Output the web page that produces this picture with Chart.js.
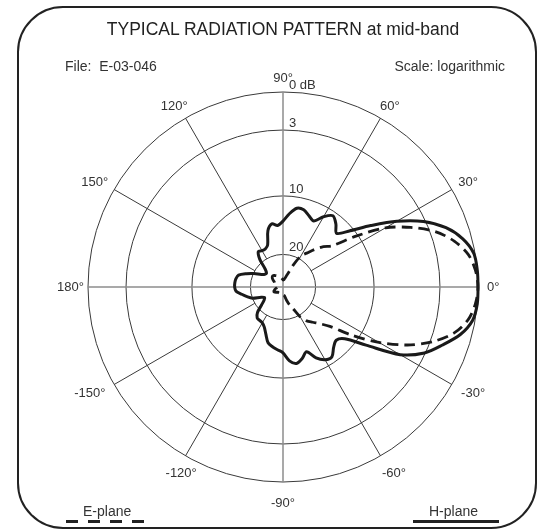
<!DOCTYPE html>
<html>
<head>
<meta charset="utf-8">
<script src="https://cdn.jsdelivr.net/npm/chart.js@4.4.1/dist/chart.umd.min.js"></script>
<style>
  html, body { margin: 0; padding: 0; background: #fff; }
  #wrap { position: relative; width: 554px; height: 531px; overflow: hidden;
          font-family: "Liberation Sans", Arial, sans-serif; color: #333; }
  #chart { position: absolute; left: 0; top: 0; }
  #frame { position: absolute; left: 17px; top: 6px; width: 516px; height: 519px;
           border: 2px solid #222; border-radius: 46px; }
  .t { position: absolute; white-space: nowrap; line-height: 1; }
  #title { left: 0; width: 566px; text-align: center; top: 21px; font-size: 17.5px; color: #222; }
  #file { left: 65px; top: 59px; font-size: 14px; }
  #scale { right: 49px; top: 59px; font-size: 14px; }
  #elab { left: 83px; top: 504px; font-size: 14px; }
  #hlab { left: 429px; top: 504px; font-size: 14px; }
  #eline { position: absolute; left: 66px; top: 520px; width: 79px; height: 3px;
           background: repeating-linear-gradient(to right, #222 0 12px, transparent 12px 22px); }
  #hline { position: absolute; left: 413px; top: 520px; width: 86px; height: 3px; background: #222; }
</style>
</head>
<body>
<div id="wrap">
  <canvas id="chart" width="554" height="531"></canvas>
  <div id="frame"></div>
  <div class="t" id="title">TYPICAL RADIATION PATTERN at mid-band</div>
  <div class="t" id="file">File:&nbsp; E-03-046</div>
  <div class="t" id="scale">Scale: logarithmic</div>
  <div class="t" id="elab">E-plane</div>
  <div id="eline"></div>
  <div class="t" id="hlab">H-plane</div>
  <div id="hline"></div>
</div>
<script>
// ---- angles (degrees, counter-clockwise from 0° = right) ----
const angles = [0,5,10,15,20,25,30,35,40,45,50,55,60,65,70,75,80,85,
  90,95,100,105,110,115,120,125,130,135,140,145,150,155,160,165,170,175,
  180,185,190,195,200,205,210,215,220,225,230,235,240,245,250,255,260,265,
  270,275,280,285,290,295,300,305,310,315,320,325,330,335,340,345,350,355];

// ---- relative level in dB below peak, H-plane (solid) ----
const hPlane = [0,0,0.1,0.7,1.7,3.2,5.7,8.3,10.6,12.6,11.5,10.7,11.7,13.1,12.6,11.9,11.9,13.0,
  14.3,15.0,14.6,15.6,17.9,18.4,18.4,18.2,19.4,22.3,23.4,23.2,22.3,20.2,18.9,17.7,17.4,17.3,
  17.3,17.5,18.4,19.2,20.0,22.6,23.5,22.9,21.4,19.4,18.7,18.6,18.5,18.0,17.0,15.7,15.2,14.8,
  14.3,12.9,12.3,12.9,13.8,12.2,11.2,11.0,12.1,12.7,11.8,8.9,5.3,3.1,2.0,0.9,0.2,0];

// ---- relative level in dB below peak, E-plane (dashed) ----
const ePlane = [0,0.15,0.55,1.4,2.6,4.7,7.1,10.5,14.6,15.8,17.2,18.5,19.4,22.6,25.7,26.9,27.5,27.8,
  27.8,27.5,27.2,26.9,26.6,26.3,26.0,25.7,25.4,25.4,25.7,26.3,26.9,27.2,27.5,27.8,28.2,28.2,
  28.2,28.2,27.8,27.5,27.2,26.9,26.9,27.2,27.5,27.8,27.8,27.8,27.8,27.5,27.5,27.5,27.5,27.5,
  27.5,27.5,27.2,25.8,24.2,22.6,19.6,18.5,17.7,16.7,15.1,11.2,7.9,5.1,2.8,1.4,0.55,0.15];

// ---- radial axis (logarithmic chart paper): dB rings and their relative radius ----
const scaleDb   = [0, 3, 10, 20, 30];
const scaleFrac = [1, 0.805, 0.467, 0.167, 0];
const tickDb     = [20, 10, 3, 0];
const tickLabels = ['20', '10', '3', '0 dB'];
const angleTicks = [0, 30, 60, 90, 120, 150, 180, 210, 240, 270, 300, 330];

function dbToR(db) {
  if (db <= scaleDb[0]) return 1;
  for (let k = 0; k < scaleDb.length - 1; k++) {
    if (db <= scaleDb[k + 1]) {
      const t = (db - scaleDb[k]) / (scaleDb[k + 1] - scaleDb[k]);
      return scaleFrac[k] + t * (scaleFrac[k + 1] - scaleFrac[k]);
    }
  }
  return 0;
}

// radar goes clockwise from the top: index i -> math angle 90 - i*step
const step = 360 / angles.length;
const order = angles.map((_, i) => {
  const a = ((90 - i * step) % 360 + 360) % 360;
  return angles.indexOf(a);
});
const radarLabels = order.map(j => angles[j]);
const idxOfAngle = a => radarLabels.indexOf(a);

const FONT = '"Liberation Sans", Arial, sans-serif';
// small horizontal nudges of a few angle labels, as on the original sheet
const labelNudge = { 180: 5, 240: 11 };

const overlay = {
  id: 'overlay',
  beforeDatasetsDraw(chart) {
    const s = chart.scales.r, ctx = chart.ctx;
    const r20 = s.getDistanceFromCenterForValue(dbToR(20));
    ctx.save();
    ctx.strokeStyle = '#3a3a3a';
    ctx.lineWidth = 1;
    angleTicks.forEach(a => {
      if (a % 90 === 0) return;
      const i = idxOfAngle(a);
      const p1 = s.getPointPosition(i, r20);
      const p2 = s.getPointPosition(i, s.drawingArea);
      ctx.beginPath();
      ctx.moveTo(p1.x, p1.y);
      ctx.lineTo(p2.x, p2.y);
      ctx.stroke();
    });
    ctx.restore();
  },
  afterDraw(chart) {
    const s = chart.scales.r, ctx = chart.ctx;
    ctx.save();
    ctx.fillStyle = '#333';
    ctx.font = '13px ' + FONT;
    // radial tick labels, right of the vertical axis, just above each ring
    ctx.textAlign = 'left';
    ctx.textBaseline = 'alphabetic';
    tickDb.forEach((db, k) => {
      const d = s.getDistanceFromCenterForValue(dbToR(db));
      ctx.fillText(tickLabels[k], s.xCenter + 6, s.yCenter - d - 3);
    });
    // angle labels
    ctx.textAlign = 'center';
    ctx.textBaseline = 'middle';
    angleTicks.forEach(a => {
      const i = idxOfAngle(a);
      const th = a * Math.PI / 180;
      const sn = Math.sin(th), cs = Math.cos(th);
      const txt = (a > 180 ? a - 360 : a) + '°';
      const w = ctx.measureText(txt).width, h = 10;
      const pad = 9 + (sn < 0 ? -sn * 7 : 0);
      const p = s.getPointPosition(i, s.drawingArea + pad);
      ctx.fillText(txt, p.x + cs * w / 2 + (labelNudge[a] || 0), p.y - sn * h / 2);
    });
    ctx.restore();
  }
};

new Chart(document.getElementById('chart'), {
  type: 'radar',
  data: {
    labels: radarLabels,
    datasets: [
      { label: 'H-plane', data: order.map(j => dbToR(hPlane[j])),
        borderColor: '#1a1a1a', borderWidth: 3, fill: false },
      { label: 'E-plane', data: order.map(j => dbToR(ePlane[j])),
        borderColor: '#1a1a1a', borderWidth: 2.8, borderDash: [11, 6], fill: false }
    ]
  },
  options: {
    responsive: false,
    animation: false,
    layout: { padding: { left: 88, right: 76, top: 92, bottom: 49 } },
    plugins: { legend: { display: false }, tooltip: { enabled: false }, title: { display: false } },
    elements: { point: { radius: 0, hoverRadius: 0 }, line: { tension: 0.3 } },
    scales: {
      r: {
        min: 0, max: 1, startAngle: 0,
        ticks: { display: false },
        afterBuildTicks: sc => {
          sc.ticks = [0].concat(tickDb.map(dbToR)).sort((a, b) => a - b).map(v => ({ value: v }));
        },
        grid: { circular: true, color: '#3a3a3a', lineWidth: 1 },
        angleLines: {
          display: true,
          color: c => (radarLabels[c.index] % 90 === 0 ? '#8c8c8c' : 'rgba(0,0,0,0)'),
          lineWidth: c => (radarLabels[c.index] % 90 === 0 ? 1.5 : 0)
        },
        pointLabels: { display: false }
      }
    }
  },
  plugins: [overlay]
});
</script>
</body>
</html>
